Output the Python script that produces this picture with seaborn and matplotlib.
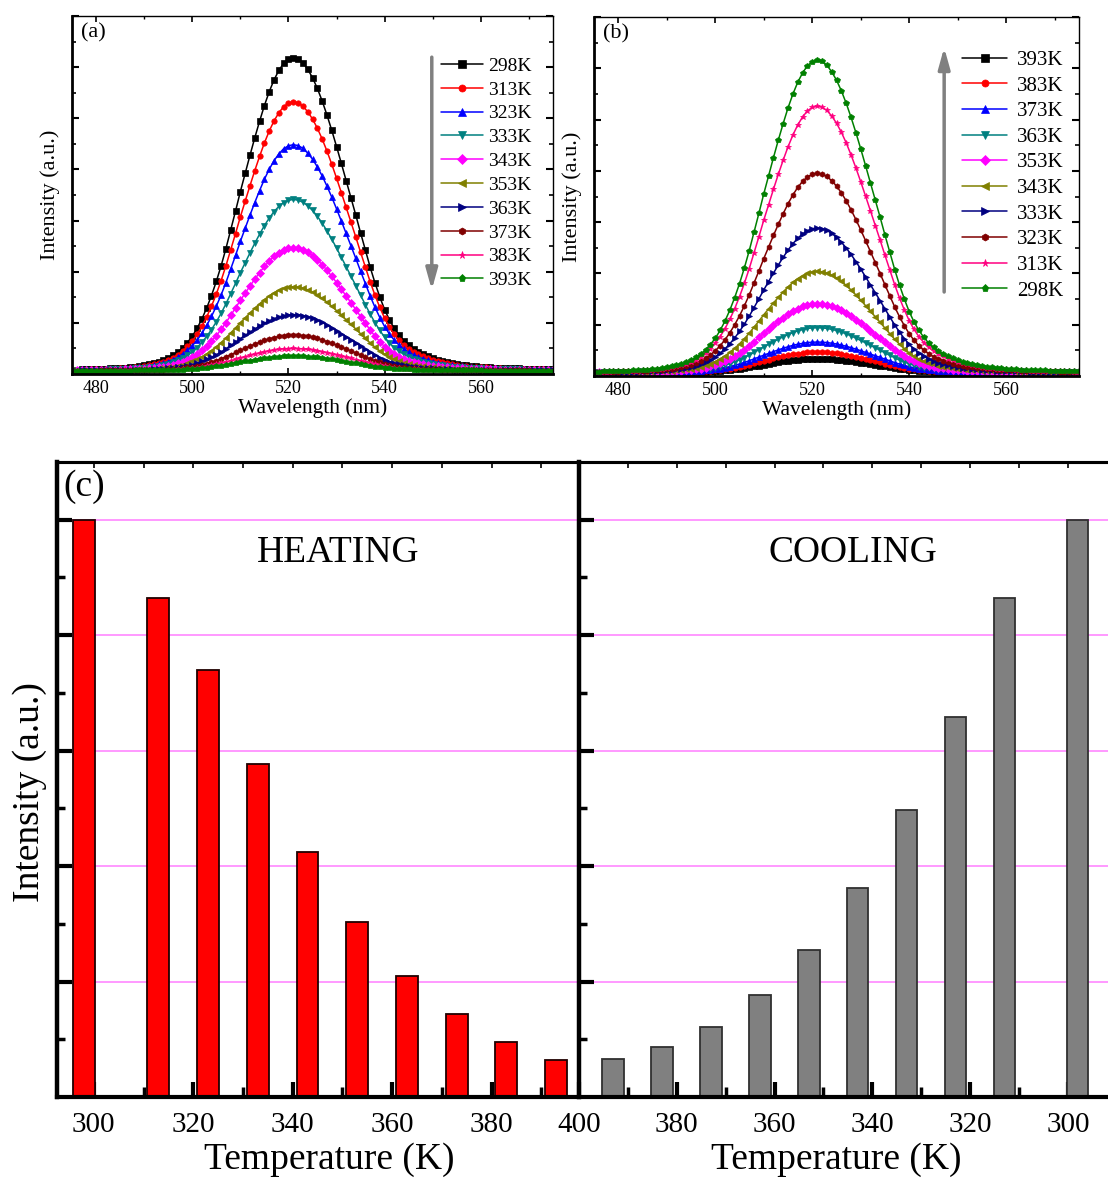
import numpy as np
import matplotlib
matplotlib.use("Agg")
import matplotlib.pyplot as plt
from matplotlib.ticker import MultipleLocator, FixedLocator, NullFormatter
from matplotlib.patches import ArrowStyle
import seaborn as sns

sns.set_theme(style="white")
plt.rcParams["font.family"] = ["Liberation Serif", "DejaVu Serif"]
plt.rcParams.update({"text.color": "black", "axes.labelcolor": "black",
                     "xtick.color": "black", "ytick.color": "black"})

# ---------------- data ----------------
# emission wavelength grid (nm) and normalised band shape of the green emission
wavelength = list(range(475, 576))
band_shape = [
    0.003, 0.003, 0.004, 0.004, 0.005, 0.005, 0.006, 0.006, 0.007, 0.008,
    0.009, 0.010, 0.011, 0.013, 0.015, 0.017, 0.020, 0.024, 0.028, 0.033,
    0.040, 0.049, 0.060, 0.073, 0.090, 0.110, 0.135, 0.165, 0.200, 0.240,
    0.285, 0.335, 0.390, 0.450, 0.510, 0.572, 0.630, 0.688, 0.744, 0.797,
    0.847, 0.891, 0.929, 0.959, 0.982, 0.995, 1.000,
    0.996, 0.984, 0.963, 0.936, 0.902, 0.862, 0.817, 0.768, 0.716, 0.662,
    0.607, 0.552, 0.497, 0.440, 0.385, 0.330, 0.280, 0.235, 0.195, 0.162,
    0.135, 0.113, 0.095, 0.081, 0.070, 0.061, 0.053, 0.046, 0.040, 0.035,
    0.031, 0.027, 0.024, 0.021, 0.019, 0.017, 0.015, 0.014, 0.013, 0.012,
    0.011, 0.010, 0.009, 0.008, 0.008, 0.007, 0.007, 0.006, 0.006, 0.005,
    0.005, 0.005, 0.004, 0.004,
]

# (a) heating run: temperatures and peak intensities
heat_temps = [298, 313, 323, 333, 343, 353, 363, 373, 383, 393]
heat_peaks = [100.0, 85.9, 72.2, 54.7, 39.3, 26.8, 17.9, 11.4, 7.1, 4.7]

# (b) cooling run
cool_temps = [393, 383, 373, 363, 353, 343, 333, 323, 313, 298]
cool_peaks = [4.5, 6.6, 9.8, 14.4, 22.1, 32.4, 46.3, 63.8, 85.3, 100.0]

# (c) integrated intensities
heat_bar = [100.0, 86.5, 74.0, 57.6, 42.4, 30.3, 20.9, 14.4, 9.5, 6.4]
cool_bar = [6.5, 8.7, 12.2, 17.6, 25.4, 36.2, 49.7, 65.9, 86.5, 100.0]

# series styles (Origin-like sequence)
line_colors = ["#000000", "#FF0000", "#0000FF", "#008080", "#FF00FF",
               "#808000", "#000080", "#800000", "#FF0080", "#008000"]
line_markers = ["s", "o", "^", "v", "D", "<", ">", "h", "*", "p"]

W, H = 1108, 1178
fig = plt.figure(figsize=(W / 100, H / 100), dpi=100)


def frac_rect(l, t, r, b):
    return [l / W, 1 - b / H, (r - l) / W, (b - t) / H]


def spectra_panel(rect, temps, peaks, tag, ylims, leg_anchor, leg_fs, leg_spacing,
                  handle_pad, arrow_x, arrow_from, arrow_to):
    ax = fig.add_axes(rect)
    wl = np.array(wavelength, dtype=float)
    shape = np.array(band_shape)
    for i, (t, p) in enumerate(zip(temps, peaks)):
        sns.lineplot(x=wl, y=shape * p, ax=ax, color=line_colors[i],
                     marker=line_markers[i], markersize=3.9,
                     markeredgecolor=line_colors[i], markeredgewidth=0.5,
                     linewidth=1.1, label=f"{t}K", sort=False)
    ax.set_xlim(475, 575)
    ax.set_ylim(*ylims)
    ax.xaxis.set_major_locator(MultipleLocator(20))
    ax.xaxis.set_minor_locator(MultipleLocator(10))
    yt = np.linspace(ylims[0], ylims[1], 8)
    ax.yaxis.set_major_locator(FixedLocator(yt))
    ax.yaxis.set_minor_locator(FixedLocator((yt[:-1] + yt[1:]) / 2))
    ax.yaxis.set_major_formatter(NullFormatter())
    ax.tick_params(axis="both", which="both", direction="in", colors="black")
    ax.tick_params(axis="y", which="major", length=5, width=1.5, left=True, right=True)
    ax.tick_params(axis="y", which="minor", length=3, width=1.2, left=True, right=True)
    ax.tick_params(axis="x", which="major", length=4, width=1.2, bottom=True, top=True,
                   labelsize=13, pad=4)
    ax.tick_params(axis="x", which="minor", length=2.5, width=1.0, bottom=True, top=True)
    for side, lw in (("left", 2.0), ("bottom", 2.0), ("top", 1.0), ("right", 1.0)):
        ax.spines[side].set_linewidth(lw)
        ax.spines[side].set_color("black")
    ax.set_xlabel("Wavelength (nm)", fontsize=15.5, labelpad=1.5)
    ax.set_ylabel("Intensity (a.u.)", fontsize=16, labelpad=5)
    ax.text(0.018, 0.953, tag, transform=ax.transAxes, fontsize=16,
            ha="left", va="center")
    ax.legend(loc="upper left", bbox_to_anchor=leg_anchor, frameon=False,
              fontsize=leg_fs, handlelength=2.15, handletextpad=handle_pad,
              labelspacing=leg_spacing, borderpad=0, borderaxespad=0,
              markerscale=1.3)
    ax.annotate("", xy=(arrow_x, arrow_to), xytext=(arrow_x, arrow_from),
                xycoords="axes fraction", textcoords="axes fraction",
                arrowprops=dict(arrowstyle=ArrowStyle("-|>", head_length=0.9,
                                                      head_width=0.25),
                                color="#808080", lw=2.5, mutation_scale=14,
                                shrinkA=0, shrinkB=0))
    return ax


spectra_panel(frac_rect(72, 16, 553, 374), heat_temps, heat_peaks, "(a)",
              (-1.06, 113.3), (0.767, 0.885), 14, 0.32, 0.28,
              0.748, 0.885, 0.235)
spectra_panel(frac_rect(594, 17, 1079, 376), cool_temps, cool_peaks, "(b)",
              (-1.06, 113.8), (0.759, 0.907), 15, 0.29, 0.5,
              0.722, 0.234, 0.915)

# ---------------- (c) bar charts ----------------
big = 27


def bar_panel(rect, temps, values, color, edge, xlim, word, word_x, xlabel_x):
    ax = fig.add_axes(rect)
    sns.barplot(x=temps, y=values, native_scale=True, orient="x", width=0.44,
                color=color, saturation=1, edgecolor=edge, linewidth=1.3,
                errorbar=None, ax=ax, zorder=2)
    ax.set_xlim(*xlim)
    ax.set_ylim(0, 110)
    ax.xaxis.set_major_locator(FixedLocator([300, 320, 340, 360, 380, 400]))
    ax.xaxis.set_minor_locator(FixedLocator([310, 330, 350, 370, 390]))
    ax.yaxis.set_major_locator(FixedLocator([20, 40, 60, 80, 100]))
    ax.yaxis.set_minor_locator(FixedLocator([10, 30, 50, 70, 90]))
    ax.yaxis.set_major_formatter(NullFormatter())
    ax.grid(axis="y", which="major", color="#FF88FF", linewidth=1.2, zorder=0)
    ax.grid(axis="x", visible=False)
    ax.set_axisbelow(True)
    ax.tick_params(axis="both", which="both", direction="in", colors="black")
    ax.tick_params(axis="x", which="major", length=11, width=3, bottom=True,
                   top=False, labelsize=21, pad=11)
    ax.tick_params(axis="x", which="minor", length=7, width=2.5, bottom=True, top=False)
    ax.tick_params(axis="y", which="major", length=11, width=3, left=True, right=False)
    ax.tick_params(axis="y", which="minor", length=6, width=2.5, left=True, right=False)
    top = ax.secondary_xaxis("top")
    top.xaxis.set_major_locator(MultipleLocator(10))
    top.tick_params(direction="in", length=4, width=1.2, labeltop=False)
    top.spines["top"].set_linewidth(2.2)
    ax.spines["left"].set_linewidth(3.2)
    ax.spines["bottom"].set_linewidth(3)
    ax.spines["top"].set_linewidth(2.2)
    ax.spines["right"].set_linewidth(2)
    for s in ax.spines.values():
        s.set_color("black")
    ax.set_xlabel("Temperature (K)", fontsize=big)
    ax.xaxis.set_label_coords(xlabel_x, -0.072)
    ax.set_ylabel("")
    ax.text(word_x, 0.857, word, transform=ax.transAxes, fontsize=big,
            ha="center", va="center")
    return ax


ax_h = bar_panel(frac_rect(57, 462, 579, 1097), heat_temps, heat_bar,
                 "#FF0000", "#200000", (292.6, 397.6), "HEATING", 0.538, 0.521)
ax_h.set_ylabel("Intensity (a.u.)", fontsize=big)
ax_h.yaxis.set_label_coords(-0.02, 0.48)
ax_h.text(0.012, 0.961, "(c)", transform=ax_h.transAxes, fontsize=big,
          ha="left", va="center")

ax_c = bar_panel(frac_rect(579, 462, 1108, 1097), cool_temps, cool_bar,
                 "#808080", "#303030", (400, 291.8), "COOLING", 0.518, 0.486)
ax_c.spines["right"].set_visible(False)

fig.savefig("out.png", dpi=100)
